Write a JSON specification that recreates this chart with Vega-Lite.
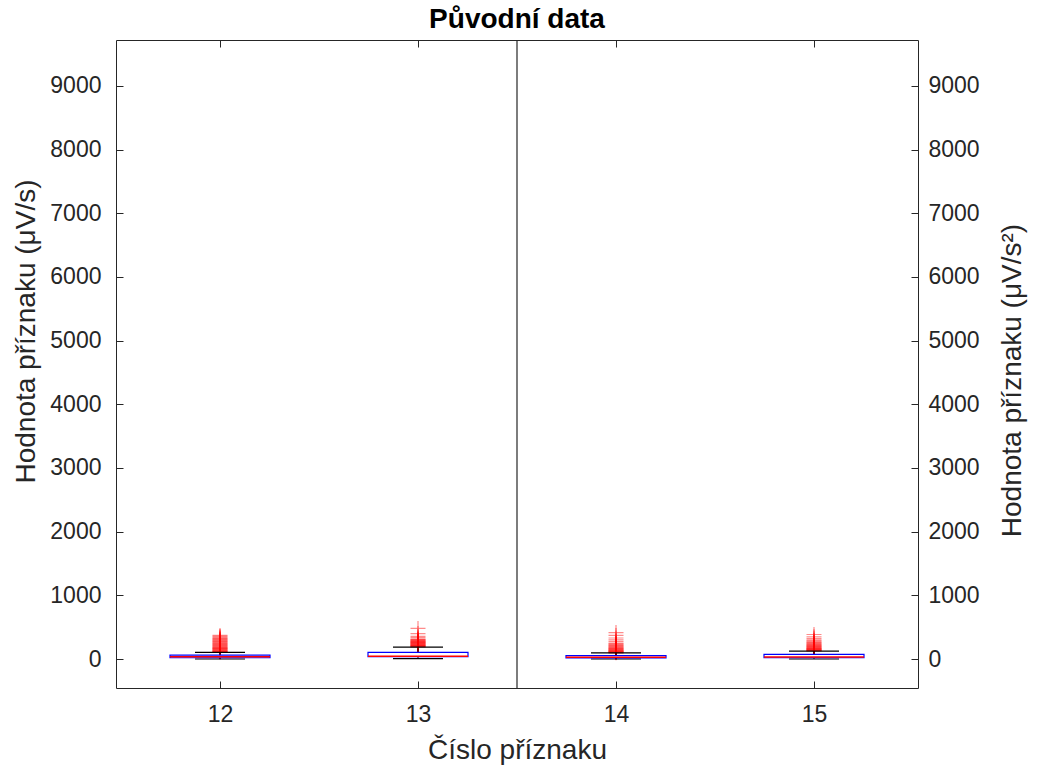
{
  "$schema": "https://vega.github.io/schema/vega-lite/v6.json",
  "autosize": "none",
  "width": 802,
  "height": 648,
  "padding": {"left": 116, "top": 40, "right": 125, "bottom": 83},
  "background": "white",
  "title": {"text": "Původní data", "font": "Liberation Sans", "fontSize": 28, "fontWeight": "bold", "color": "#000000", "offset": 5},
  "config": {
    "view": {"stroke": "#262626", "strokeWidth": 1},
    "axis": {"labelFont": "Liberation Sans", "titleFont": "Liberation Sans", "labelFontSize": 23, "titleFontSize": 28, "titleFontWeight": "normal", "labelColor": "#262626", "titleColor": "#262626", "domainColor": "#262626", "tickColor": "#262626", "grid": false, "format": "d"}
  },
  "datasets": {
    "boxes": [
      {"feat": 12, "lo": 0, "q1": 20, "med": 35, "q3": 60, "hi": 105},
      {"feat": 13, "lo": 5, "q1": 36, "med": 45, "q3": 105, "hi": 188},
      {"feat": 14, "lo": 0, "q1": 16, "med": 28, "q3": 52, "hi": 95},
      {"feat": 15, "lo": 0, "q1": 20, "med": 30, "q3": 72, "hi": 125}
    ],
    "outliers": [
      {"feat": 12, "v": 110}, {"feat": 12, "v": 115}, {"feat": 12, "v": 120}, {"feat": 12, "v": 125}, {"feat": 12, "v": 130}, {"feat": 12, "v": 138}, {"feat": 12, "v": 145}, {"feat": 12, "v": 150}, {"feat": 12, "v": 158}, {"feat": 12, "v": 165}, {"feat": 12, "v": 172}, {"feat": 12, "v": 180}, {"feat": 12, "v": 188}, {"feat": 12, "v": 195}, {"feat": 12, "v": 205}, {"feat": 12, "v": 215}, {"feat": 12, "v": 225}, {"feat": 12, "v": 235}, {"feat": 12, "v": 245}, {"feat": 12, "v": 255}, {"feat": 12, "v": 265}, {"feat": 12, "v": 275}, {"feat": 12, "v": 285}, {"feat": 12, "v": 295}, {"feat": 12, "v": 305}, {"feat": 12, "v": 315}, {"feat": 12, "v": 325}, {"feat": 12, "v": 340}, {"feat": 12, "v": 355}, {"feat": 12, "v": 370},
      {"feat": 13, "v": 192}, {"feat": 13, "v": 196}, {"feat": 13, "v": 200}, {"feat": 13, "v": 205}, {"feat": 13, "v": 210}, {"feat": 13, "v": 215}, {"feat": 13, "v": 220}, {"feat": 13, "v": 226}, {"feat": 13, "v": 232}, {"feat": 13, "v": 238}, {"feat": 13, "v": 244}, {"feat": 13, "v": 250}, {"feat": 13, "v": 256}, {"feat": 13, "v": 262}, {"feat": 13, "v": 268}, {"feat": 13, "v": 274}, {"feat": 13, "v": 280}, {"feat": 13, "v": 288}, {"feat": 13, "v": 296}, {"feat": 13, "v": 305}, {"feat": 13, "v": 314}, {"feat": 13, "v": 335}, {"feat": 13, "v": 355}, {"feat": 13, "v": 400}, {"feat": 13, "v": 480},
      {"feat": 14, "v": 98}, {"feat": 14, "v": 102}, {"feat": 14, "v": 106}, {"feat": 14, "v": 110}, {"feat": 14, "v": 115}, {"feat": 14, "v": 120}, {"feat": 14, "v": 126}, {"feat": 14, "v": 132}, {"feat": 14, "v": 138}, {"feat": 14, "v": 145}, {"feat": 14, "v": 152}, {"feat": 14, "v": 160}, {"feat": 14, "v": 168}, {"feat": 14, "v": 176}, {"feat": 14, "v": 185}, {"feat": 14, "v": 195}, {"feat": 14, "v": 205}, {"feat": 14, "v": 215}, {"feat": 14, "v": 228}, {"feat": 14, "v": 240}, {"feat": 14, "v": 250}, {"feat": 14, "v": 275}, {"feat": 14, "v": 300}, {"feat": 14, "v": 330}, {"feat": 14, "v": 370}, {"feat": 14, "v": 415},
      {"feat": 15, "v": 128}, {"feat": 15, "v": 132}, {"feat": 15, "v": 136}, {"feat": 15, "v": 140}, {"feat": 15, "v": 145}, {"feat": 15, "v": 150}, {"feat": 15, "v": 156}, {"feat": 15, "v": 162}, {"feat": 15, "v": 168}, {"feat": 15, "v": 175}, {"feat": 15, "v": 182}, {"feat": 15, "v": 190}, {"feat": 15, "v": 198}, {"feat": 15, "v": 206}, {"feat": 15, "v": 215}, {"feat": 15, "v": 225}, {"feat": 15, "v": 235}, {"feat": 15, "v": 245}, {"feat": 15, "v": 258}, {"feat": 15, "v": 270}, {"feat": 15, "v": 285}, {"feat": 15, "v": 300}, {"feat": 15, "v": 325}, {"feat": 15, "v": 350}, {"feat": 15, "v": 385}
    ],
    "sep": [{"x": 13.5}]
  },
  "resolve": {"axis": {"x": "independent", "y": "independent"}},
  "layer": [
    {
      "data": {"name": "sep"},
      "mark": {"type": "rule", "color": "#262626", "strokeWidth": 1.2},
      "encoding": {
        "x": {"field": "x", "type": "quantitative", "scale": {"domain": [11.5, 15.5], "nice": false, "zero": false},
              "axis": {"orient": "top", "values": [12, 13, 14, 15], "labels": false, "title": null, "domain": false, "tickSize": -7}}
      }
    },
    {
      "data": {"name": "outliers"},
      "mark": {"type": "point", "shape": "M-1,0H1M0,-1V1", "size": 225, "filled": false, "stroke": "#ff0000", "strokeWidth": 1.2, "opacity": 0.45},
      "encoding": {
        "x": {"field": "feat", "type": "quantitative", "axis": null},
        "y": {"field": "v", "type": "quantitative", "scale": {"domain": [-455, 9720], "nice": false, "zero": false},
              "axis": {"orient": "right", "values": [0, 1000, 2000, 3000, 4000, 5000, 6000, 7000, 8000, 9000], "title": "Hodnota příznaku (μV/s²)", "titleAngle": 270, "titleY": 340, "tickSize": -7, "labelPadding": 17, "titlePadding": 47, "domain": false}}
      }
    },
    {
      "data": {"name": "boxes"},
      "mark": {"type": "rule", "color": "#000000", "strokeDash": [4, 3]},
      "encoding": {
        "x": {"field": "feat", "type": "quantitative", "axis": null},
        "y": {"field": "q3", "type": "quantitative", "axis": null},
        "y2": {"field": "hi"}
      }
    },
    {
      "data": {"name": "boxes"},
      "mark": {"type": "rule", "color": "#000000", "strokeDash": [4, 3]},
      "encoding": {
        "x": {"field": "feat", "type": "quantitative", "axis": null},
        "y": {"field": "lo", "type": "quantitative", "axis": null},
        "y2": {"field": "q1"}
      }
    },
    {
      "data": {"name": "boxes"},
      "mark": {"type": "tick", "orient": "horizontal", "size": 50, "thickness": 1.2, "color": "#000000", "opacity": 1},
      "encoding": {
        "x": {"field": "feat", "type": "quantitative", "axis": null},
        "y": {"field": "hi", "type": "quantitative", "axis": null}
      }
    },
    {
      "data": {"name": "boxes"},
      "mark": {"type": "tick", "orient": "horizontal", "size": 50, "thickness": 1.2, "color": "#000000", "opacity": 1},
      "encoding": {
        "x": {"field": "feat", "type": "quantitative", "axis": null},
        "y": {"field": "lo", "type": "quantitative", "axis": null}
      }
    },
    {
      "data": {"name": "boxes"},
      "mark": {"type": "bar", "width": 100, "fill": "white", "stroke": "#0000ff", "strokeWidth": 1.2, "orient": "vertical"},
      "encoding": {
        "x": {"field": "feat", "type": "quantitative",
              "axis": {"orient": "bottom", "values": [12, 13, 14, 15], "title": "Číslo příznaku", "tickSize": -7, "labelPadding": 22, "titlePadding": 10, "domain": false}},
        "y": {"field": "q1", "type": "quantitative",
              "axis": {"orient": "left", "values": [0, 1000, 2000, 3000, 4000, 5000, 6000, 7000, 8000, 9000], "title": "Hodnota příznaku (μV/s)", "titleY": 291, "tickSize": -7, "labelPadding": 22, "titlePadding": 9, "domain": false}},
        "y2": {"field": "q3"}
      }
    },
    {
      "data": {"name": "boxes"},
      "mark": {"type": "tick", "orient": "horizontal", "size": 100, "thickness": 1.5, "color": "#ff0000", "opacity": 1},
      "encoding": {
        "x": {"field": "feat", "type": "quantitative", "axis": null},
        "y": {"field": "med", "type": "quantitative", "axis": null}
      }
    }
  ]
}
